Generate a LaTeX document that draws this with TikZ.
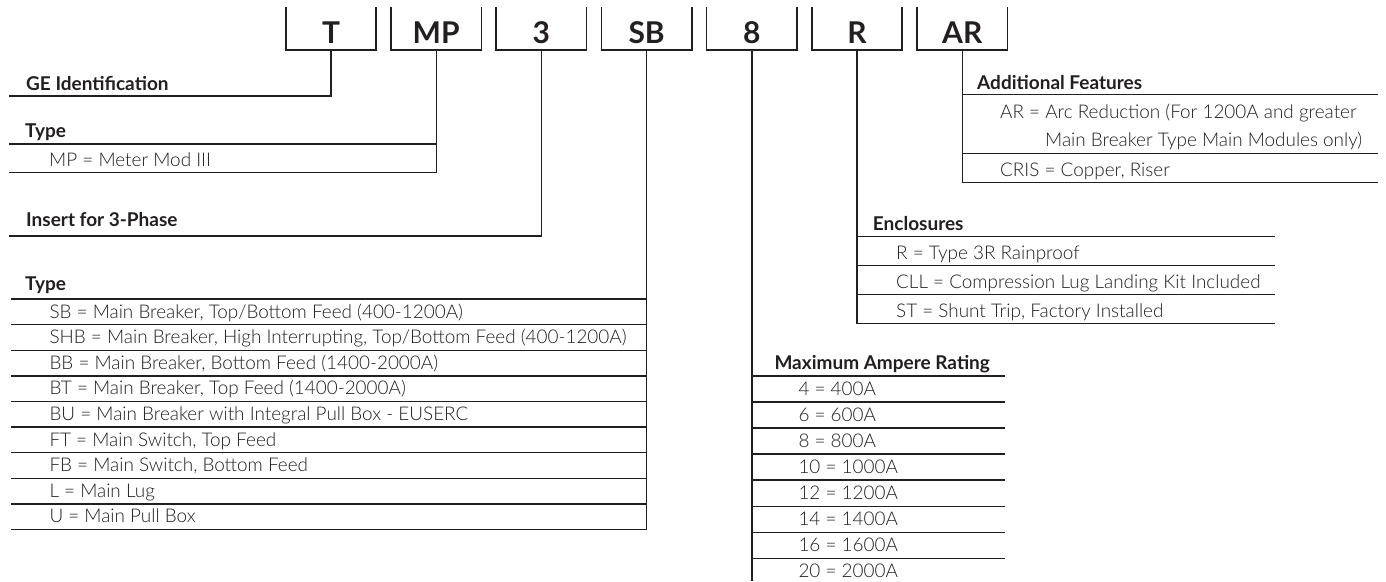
\documentclass[tikz,border=0pt]{standalone}
\usepackage{fontspec}
\setmainfont{Lato}
\IfFontExistsTF{Lato Light}{\newfontfamily\itemfont{Lato Light}}{\newfontfamily\itemfont{Lato}}
\definecolor{ink}{HTML}{231F20}
\tikzset{
  x=1pt, y=-1pt,
  ln/.style={draw=ink, line width=1.4pt},
  boxln/.style={draw=ink, line width=1.6pt},
  codebox/.style={inner sep=0pt, minimum width=90pt, text height=36.3pt, text depth=6.7pt,
    anchor=base, font=\fontsize{30}{30}\selectfont\bfseries, text=ink},
  head/.style={anchor=base west, inner sep=0pt, font=\fontsize{19}{21}\selectfont\bfseries, text=ink},
  item/.style={anchor=base west, inner sep=0pt, font=\itemfont\fontsize{18.9}{20}\selectfont, text=ink},
}
\begin{document}
\begin{tikzpicture}
\path[fill=white] (0,0) rectangle (1386,581);
\useasboundingbox (0,0) rectangle (1386,581);

% code boxes
\node[codebox] (cT)  at (331.0,43.3) {T};
\node[codebox] (cMP) at (436.2,43.3) {MP};
\node[codebox] (c3)  at (541.4,43.3) {3};
\node[codebox] (cSB) at (646.6,43.3) {SB};
\node[codebox] (c8)  at (751.8,43.3) {8};
\node[codebox] (cR)  at (857.0,43.3) {R};
\node[codebox] (cAR) at (962.2,43.3) {AR};
\foreach \n in {cT,cMP,c3,cSB,c8,cR,cAR}
  \draw[boxln] (\n.north west) -- (\n.south west) -- (\n.south east) -- (\n.north east);

% GE Identification
\coordinate (geL) at (9,96);
\draw[ln] (cT.south) |- (geL);
\node[head] (geH) at (26,90) {GE Identification};

% Type (MP)
\coordinate (mpHL) at (9,144);
\coordinate (mpHR) at (436.2,144);
\coordinate (mpBL) at (9,172.7);
\draw[ln] (cMP.south) |- (mpBL);
\draw[ln] (mpHL) -- (mpHR);
\node[head] (mpH) at (25,137) {Type};
\node[item] (mpI) at (49,166) {MP = Meter Mod III};

% Insert for 3-Phase
\coordinate (inL) at (9,236);
\draw[ln] (c3.south) |- (inL);
\node[head] (inH) at (26,226.5) {Insert for 3-Phase};

% Type (SB)
\coordinate (sbBL) at (11,529.4);
\draw[ln] (cSB.south) |- (sbBL);
\node[head] (sbH) at (25,290.7) {Type};
\foreach \k in {0,...,8}
  \draw[ln] (11,{299+25.6*\k}) -- (646.6,{299+25.6*\k});
\foreach \t [count=\k] in {
  {SB = Main Breaker, Top/Bottom Feed (400-1200A)},
  {SHB = Main Breaker, High Interrupting, Top/Bottom Feed (400-1200A)},
  {BB = Main Breaker, Bottom Feed (1400-2000A)},
  {BT = Main Breaker, Top Feed (1400-2000A)},
  {BU = Main Breaker with Integral Pull Box - EUSERC},
  {FT = Main Switch, Top Feed},
  {FB = Main Switch, Bottom Feed},
  {L = Main Lug},
  {U = Main Pull Box}}
  \node[item] (sb\k) at (49.3,{299+25.6*\k-6.6}) {\t};

% Maximum Ampere Rating
\coordinate (amB) at (751.8,581);
\draw[ln] (c8.south) -- (amB);
\node[head] (amH) at (774.3,369.3) {Maximum Ampere Rating};
\foreach \k in {0,...,7}
  \draw[ln] (751.8,{376+26.04*\k}) -- (1005,{376+26.04*\k});
\foreach \t [count=\k] in {4 = 400A, 6 = 600A, 8 = 800A, 10 = 1000A, 12 = 1200A,
  14 = 1400A, 16 = 1600A, 20 = 2000A}
  \node[item] (am\k) at (798.3,{376+26.04*\k-6.5}) {\t};

% Enclosures
\coordinate (enBR) at (1275,323.3);
\draw[ln] (cR.south) |- (enBR);
\node[head] (enH) at (872.7,230) {Enclosures};
\foreach \k in {0,1,2}
  \draw[ln] (857,{236.7+28.87*\k}) -- (1275,{236.7+28.87*\k});
\foreach \t [count=\k] in {
  {R = Type 3R Rainproof},
  {CLL = Compression Lug Landing Kit Included},
  {ST = Shunt Trip, Factory Installed}}
  \node[item] (en\k) at (896,{236.7+28.87*\k-6}) {\t};

% Additional Features
\coordinate (arBR) at (1378,182.7);
\coordinate (arHL) at (962.2,94.3);
\coordinate (arHR) at (1378,94.3);
\coordinate (arML) at (962.2,153.3);
\coordinate (arMR) at (1378,153.3);
\draw[ln] (cAR.south) |- (arBR);
\draw[ln] (arHL) -- (arHR);
\draw[ln] (arML) -- (arMR);
\node[head] (arH) at (977,89.3) {Additional Features};
\node[item] (ar1) at (1000,118) {AR = Arc Reduction (For 1200A and greater};
\node[item] (ar2) at (1045,146.5) {Main Breaker Type Main Modules only)};
\node[item] (ar3) at (1000,176) {CRIS = Copper, Riser};
\end{tikzpicture}
\end{document}
